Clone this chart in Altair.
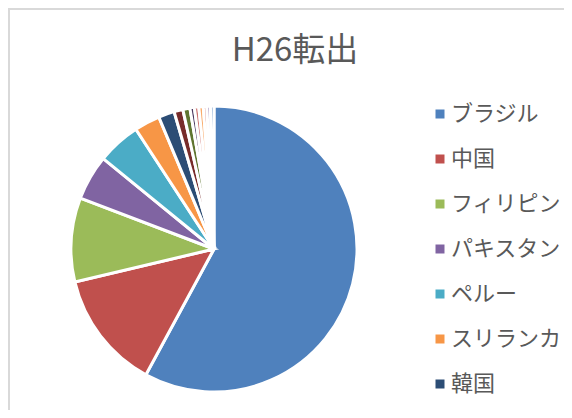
import altair as alt
import pandas as pd

# data
countries = ["ブラジル", "中国", "フィリピン", "パキスタン", "ペルー", "スリランカ", "韓国",
             "ベトナム", "インドネシア", "アメリカ", "タイ", "ネパール", "ボリビア", "アルゼンチン", "その他"]
values = [579, 134, 95, 51, 49, 29, 18, 10, 8, 5, 5, 5, 4, 4, 4]
colors = ["#4F81BD", "#C0504D", "#9BBB59", "#8064A2", "#4BACC6", "#F79646", "#2C4D75",
          "#772C2A", "#5F7530", "#4D3B62", "#CD7371", "#F9AB6B", "#CD7371", "#9983B5", "#729ACA"]
legend_shown = countries[:7]
title_text = "H26転出"

df = pd.DataFrame({"国籍": countries, "人数": values, "順": list(range(len(countries)))})
frame_df = pd.DataFrame({"k": [0]})

W, H = 556, 402
FONT = "Noto Sans CJK JP"

top_line = alt.Chart(frame_df).mark_rule(color="#d9d9d9", strokeWidth=2).encode(
    x=alt.value(0), x2=alt.value(W), y=alt.value(1)
)
left_line = alt.Chart(frame_df).mark_rule(color="#d9d9d9", strokeWidth=2).encode(
    x=alt.value(1), y=alt.value(0), y2=alt.value(H)
)

pie = alt.Chart(df).mark_arc(radius=143, stroke="white", strokeWidth=3, x=206, y=241).encode(
    theta=alt.Theta("人数:Q", stack=True),
    order=alt.Order("順:Q"),
    color=alt.Color(
        "国籍:N",
        sort=countries,
        scale=alt.Scale(domain=countries, range=colors),
        legend=alt.Legend(
            orient="none", legendX=421, legendY=95, values=legend_shown, title=None,
            symbolType="square", symbolSize=81, symbolStrokeWidth=0,
            labelFontSize=22, labelFont=FONT, labelColor="#595959",
            rowPadding=23, labelOffset=0, padding=0,
        ),
    ),
)

chart = alt.layer(top_line, left_line, pie).properties(
    width=W, height=H, padding=0, autosize="none",
    title=alt.TitleParams(text=title_text, fontSize=33, font=FONT, color="#595959",
                          fontWeight="normal", anchor="middle", dx=9, dy=91,
                          baseline="alphabetic"),
).configure_view(stroke=None)

chart.save("out.html", embed_options={"renderer": "svg", "actions": False})
